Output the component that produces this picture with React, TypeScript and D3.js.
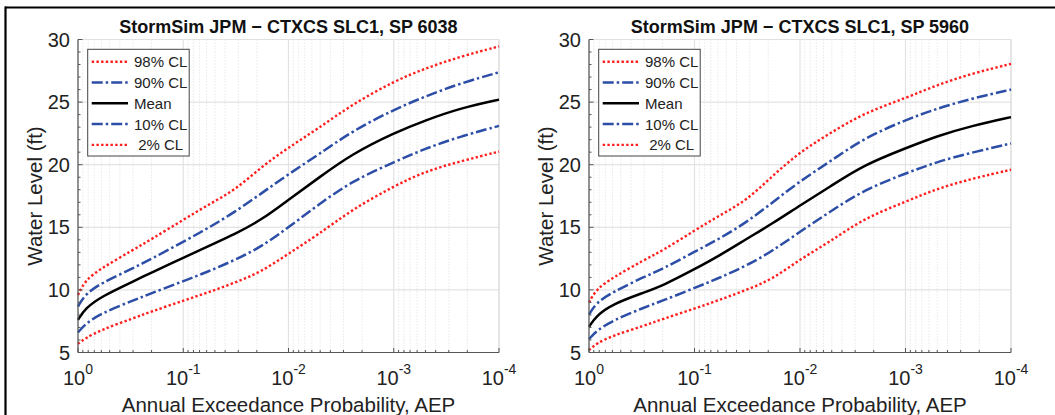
import React from "react";
import * as d3 from "d3";

// Annual exceedance probabilities (x)
const AEP = [1, 0.85, 0.6, 0.3, 0.2, 0.1, 0.058, 0.032, 0.018, 0.01, 0.0052, 0.0025, 0.001, 0.0005, 0.00023, 0.0001];

// Panel 1: SP 6038
const P1_CL98 = [9.6, 10.8, 11.73, 13.2, 14.05, 15.6, 16.8, 17.98, 19.85, 21.37, 22.9, 24.8, 26.66, 27.7, 28.65, 29.45];
const P1_CL90 = [8.67, 9.68, 10.54, 11.73, 12.48, 13.85, 14.93, 16.25, 17.72, 19.25, 20.8, 22.67, 24.4, 25.46, 26.52, 27.38];
const P1_MEAN = [7.61, 8.54, 9.47, 10.67, 11.39, 12.55, 13.5, 14.47, 15.6, 17.2, 18.94, 20.85, 22.53, 23.55, 24.53, 25.2];
const P1_CL10 = [6.6, 7.29, 8.14, 9.15, 9.74, 10.7, 11.46, 12.4, 13.46, 15.0, 16.81, 18.68, 20.2, 21.3, 22.27, 23.1];
const P1_CL02 = [5.69, 6.15, 6.81, 7.74, 8.27, 9.15, 9.79, 10.59, 11.46, 12.9, 14.42, 16.41, 18.28, 19.48, 20.28, 21.05];

// Panel 2: SP 5960
const P2_CL98 = [9.0, 10.07, 10.96, 12.4, 13.14, 14.75, 15.94, 17.15, 19.15, 21.02, 22.51, 24.11, 25.31, 26.38, 27.31, 28.05];
const P2_CL90 = [8.02, 9.0, 9.8, 11.06, 11.67, 13.05, 14.08, 15.41, 17.01, 18.7, 20.24, 22.11, 23.57, 24.5, 25.31, 26.0];
const P2_MEAN = [7.06, 7.94, 8.87, 9.8, 10.34, 11.65, 12.74, 14.08, 15.33, 16.75, 18.24, 19.97, 21.31, 22.3, 23.13, 23.8];
const P2_CL10 = [6.07, 6.74, 7.54, 8.6, 9.14, 10.15, 10.96, 11.94, 13.14, 14.65, 16.24, 17.97, 19.3, 20.24, 20.99, 21.7];
const P2_CL02 = [5.19, 5.72, 6.34, 7.14, 7.67, 8.5, 9.2, 10.0, 10.88, 12.45, 13.84, 15.7, 17.04, 18.1, 18.9, 19.6];

const TITLES = ["StormSim JPM \u2212 CTXCS SLC1, SP 6038", "StormSim JPM \u2212 CTXCS SLC1, SP 5960"];
const LEGEND_LABELS = ["98% CL", "90% CL", "Mean", "10% CL", " 2% CL"];
const Y_TICKS = [5, 10, 15, 20, 25, 30];
const X_TICKS = [1, 0.1, 0.01, 0.001, 0.0001];
const X_TICK_EXP = ["0", "-1", "-2", "-3", "-4"];
const X_LABEL = "Annual Exceedance Probability, AEP";
const Y_LABEL = "Water Level (ft)";

const FONT = "'Liberation Sans', Arial, Helvetica, sans-serif";
const RED = "#ff1f1f";
const BLUE = "#2d4ea6";

const STYLES = [
  { color: RED, dash: "2.4,2.3", width: 2.4 },
  { color: BLUE, dash: "11,3,2.5,3", width: 2.5 },
  { color: "#000", dash: null, width: 2.5 },
  { color: BLUE, dash: "11,3,2.5,3", width: 2.5 },
  { color: RED, dash: "2.4,2.3", width: 2.4 },
];

const PANELS = [
  { x0: 78, x1: 499, title: TITLES[0], series: [P1_CL98, P1_CL90, P1_MEAN, P1_CL10, P1_CL02] },
  { x0: 589, x1: 1011, title: TITLES[1], series: [P2_CL98, P2_CL90, P2_MEAN, P2_CL10, P2_CL02] },
];

const TOP = 39.5;
const BOT = 352.5;

function Panel({ p }: { p: any }) {
  const x = d3.scaleLog().domain([1, 1e-4]).range([p.x0, p.x1]);
  const y = d3.scaleLinear().domain([5, 30]).range([BOT, TOP]);
  const minor: number[] = [];
  X_TICKS.slice(1).forEach((d) => {
    for (let k = 2; k <= 9; k++) minor.push(d * k);
  });
  const yMinor = d3.range(5, 31, 1).filter((v) => v % 5 !== 0);
  const line = d3
    .line<number>()
    .x((_, i) => x(AEP[i]))
    .y((v) => y(v))
    .curve(d3.curveBasis);
  const midX = (p.x0 + p.x1) / 2;
  const midY = (TOP + BOT) / 2;
  const lg = { x: p.x0 + 9.7, y: 49.3, w: 101.5, h: 106.7 };
  return (
    <g>
      {/* minor vertical grid */}
      {minor.map((m, i) => (
        <line key={"mg" + i} x1={x(m)} x2={x(m)} y1={TOP} y2={BOT} stroke="#d4d4d4" strokeWidth={0.8} strokeDasharray="1,2" />
      ))}
      {/* major grids */}
      {X_TICKS.map((t, i) => (
        <line key={"xg" + i} x1={x(t)} x2={x(t)} y1={TOP} y2={BOT} stroke="#e3e3e3" strokeWidth={1.2} />
      ))}
      {Y_TICKS.map((t, i) => (
        <line key={"yg" + i} x1={p.x0} x2={p.x1} y1={y(t)} y2={y(t)} stroke="#e3e3e3" strokeWidth={1.2} />
      ))}
      {/* box top/right */}
      <line x1={p.x0} x2={p.x1} y1={TOP} y2={TOP} stroke="#e0e0e0" strokeWidth={1.2} />
      <line x1={p.x1} x2={p.x1} y1={TOP} y2={BOT} stroke="#e0e0e0" strokeWidth={1.2} />
      {/* curves */}
      {p.series.map((s: number[], i: number) => (
        <path
          key={"s" + i}
          d={line(s) || ""}
          fill="none"
          stroke={STYLES[i].color}
          strokeWidth={STYLES[i].width}
          strokeDasharray={STYLES[i].dash || undefined}
        />
      ))}
      {/* axes */}
      <line x1={p.x0} x2={p.x1} y1={BOT} y2={BOT} stroke="#555" strokeWidth={1.2} />
      <line x1={p.x0} x2={p.x0} y1={TOP} y2={BOT} stroke="#555" strokeWidth={1.2} />
      {minor.map((m, i) => (
        <line key={"mt" + i} x1={x(m)} x2={x(m)} y1={BOT} y2={BOT - 2.5} stroke="#555" strokeWidth={1} />
      ))}
      {X_TICKS.map((t, i) => (
        <line key={"xt" + i} x1={x(t)} x2={x(t)} y1={BOT} y2={BOT - 4.5} stroke="#555" strokeWidth={1} />
      ))}
      {yMinor.map((v, i) => (
        <line key={"ymt" + i} x1={p.x0} x2={p.x0 + 2.5} y1={y(v)} y2={y(v)} stroke="#555" strokeWidth={1} />
      ))}
      {Y_TICKS.map((t, i) => (
        <line key={"yt" + i} x1={p.x0} x2={p.x0 + 4.5} y1={y(t)} y2={y(t)} stroke="#555" strokeWidth={1} />
      ))}
      {/* tick labels */}
      {Y_TICKS.map((t, i) => (
        <text key={"yl" + i} x={p.x0 - 8} y={y(t) + 7} textAnchor="end" fontSize={20} fill="#222">
          {t}
        </text>
      ))}
      {X_TICKS.map((t, i) => (
        <text key={"xl" + i} x={x(t)} y={BOT + 32} textAnchor="middle" fontSize={20} fill="#222">
          <tspan>10</tspan>
          <tspan dy={-11} fontSize={14}>
            {X_TICK_EXP[i]}
          </tspan>
        </text>
      ))}
      {/* labels */}
      <text x={midX} y={33} textAnchor="middle" fontSize={18} fontWeight="bold" fill="#111">
        {p.title}
      </text>
      <text x={midX} y={412} textAnchor="middle" fontSize={20.5} fill="#222">
        {X_LABEL}
      </text>
      <text transform={`translate(${p.x0 - 44},${midY}) rotate(-90)`} textAnchor="middle" dominantBaseline="central" fontSize={20.5} fill="#222">
        {Y_LABEL}
      </text>
      {/* legend */}
      <rect x={lg.x} y={lg.y} width={lg.w} height={lg.h} fill="#fff" stroke="#444" strokeWidth={1} />
      {LEGEND_LABELS.map((lab, i) => {
        const ry = 61.7 + i * 20.8;
        return (
          <g key={"lg" + i}>
            <line
              x1={p.x0 + 13.7}
              x2={p.x0 + 50}
              y1={ry}
              y2={ry}
              stroke={STYLES[i].color}
              strokeWidth={STYLES[i].width}
              strokeDasharray={STYLES[i].dash || undefined}
            />
            <text x={p.x0 + 56} y={ry + 5.5} fontSize={15} fill="#222" style={{ whiteSpace: "pre" }}>
              {lab}
            </text>
          </g>
        );
      })}
    </g>
  );
}

export default function App() {
  return (
    <svg
      width={1055}
      height={415}
      viewBox="0 0 1055 415"
      style={{ position: "absolute", left: 0, top: 0, background: "#fff" }}
      fontFamily={FONT}
    >
      <rect x={0} y={0} width={1055} height={415} fill="#fff" />
      {PANELS.map((p, i) => (
        <Panel key={i} p={p} />
      ))}
      <line x1={5} x2={1055} y1={7.5} y2={7.5} stroke="#000" strokeWidth={2.2} />
      <line x1={5.5} x2={5.5} y1={6.5} y2={415} stroke="#000" strokeWidth={2.2} />
    </svg>
  );
}
